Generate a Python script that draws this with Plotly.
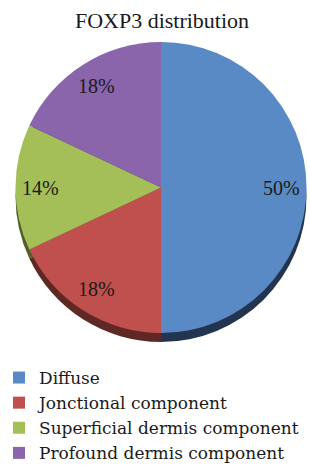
import math
import plotly.graph_objects as go

labels = ["Diffuse", "Jonctional component", "Superficial dermis component", "Profound dermis component"]
values = [50, 18, 14, 18]
colors = ["#5A8AC6", "#C0504D", "#A5BF58", "#8A65AB"]
edge_colors = ["#22344F", "#5E2825", "#51602B", "#45355C"]
title = "FOXP3 distribution"

W, H = 310, 466
# pie face box in pixels
px0, px1, py0, py1 = 13, 309, 42, 333
depth = 9
cx, cy = (px0 + px1) / 2, (py0 + py1) / 2
R = min(px1 - px0, py1 - py0) / 2
font = "Liberation Serif"

common = dict(labels=labels, values=values, sort=False, direction="clockwise", rotation=0,
              textinfo="none")

fig = go.Figure()
# darker 3D edge underneath
fig.add_trace(go.Pie(
    **common, marker=dict(colors=edge_colors, line=dict(width=0)),
    hoverinfo="skip", showlegend=False,
    domain=dict(x=[px0 / W, px1 / W], y=[1 - (py1 + depth) / H, 1 - (py0 + depth) / H]),
))
fig.add_trace(go.Pie(
    **common, marker=dict(colors=colors, line=dict(width=0)),
    hoverinfo="label+percent",
    domain=dict(x=[px0 / W, px1 / W], y=[1 - py1 / H, 1 - py0 / H]),
))

total = sum(values)
cum = 0
for v in values:
    mid = (cum + v / 2) / total * 2 * math.pi
    cum += v
    lx = cx + 0.83 * R * math.sin(mid)
    ly = cy - 0.83 * R * math.cos(mid)
    fig.add_annotation(x=lx / W, y=1 - ly / H, xref="paper", yref="paper",
                       xanchor="center", yanchor="middle",
                       text=f"{round(v / total * 100)}%", showarrow=False,
                       font=dict(family=font, size=20, color="#1a1a1a"))

fig.update_layout(
    width=W, height=H, margin=dict(l=0, r=0, t=0, b=0, autoexpand=False),
    paper_bgcolor="white", plot_bgcolor="white",
    title=dict(text=title, x=162 / W, xanchor="center", y=1 - 20 / H, yanchor="middle",
               font=dict(family=font, size=22, color="#1a1a1a")),
    showlegend=True,
    legend=dict(x=-1 / W, xanchor="left", y=1 - 360 / H, yanchor="top",
                font=dict(family="DejaVu Serif", size=17, color="#1a1a1a"),
                bgcolor="rgba(0,0,0,0)", tracegroupgap=0),
)
fig.write_html("out.html", config={"displayModeBar": False})

with open("out.html", encoding="utf-8") as f:
    html = f.read()
html = html.replace("<head>", "<head><style>html,body{margin:0;padding:0;overflow:hidden}</style>", 1)
with open("out.html", "w", encoding="utf-8") as f:
    f.write(html)
